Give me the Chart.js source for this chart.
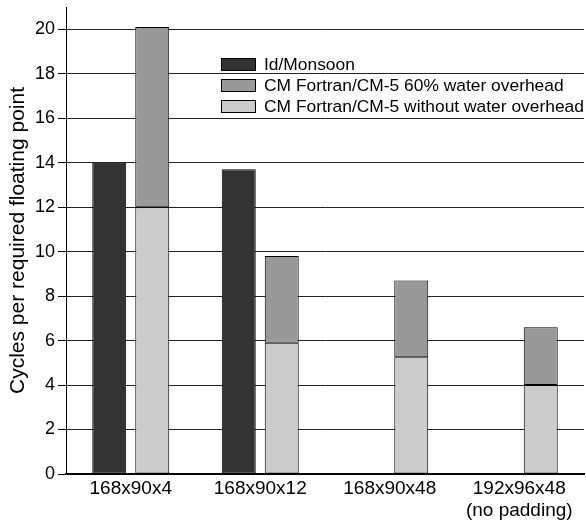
<!DOCTYPE html>
<html>
<head>
<meta charset="utf-8">
<script src="https://cdn.jsdelivr.net/npm/chart.js@4"></script>
<style>
  body { margin: 0; background: #fff; }
</style>
</head>
<body>
<canvas id="myChart" width="586" height="523"></canvas>
<script>
const categories = [['168x90x4'], ['168x90x12'], ['168x90x48'], ['192x96x48', '(no padding)']];
const monsoon = [14.0, 13.7, null, null];
const cmWithoutWater = [12.0, 5.9, 5.25, 4.0];
const cmWaterOverhead = [8.1, 3.9, 3.45, 2.6]; // added on top, totals 20.1, 9.8, 8.7, 6.6

const FONT = '"Liberation Sans", Arial, Helvetica, sans-serif';

// legend sits inside the plot, in this order
const legendOrder = [0, 2, 1];
const insideLegend = {
  id: 'insideLegend',
  afterDatasetsDraw(chart) {
    const ctx = chart.ctx;
    const x0 = chart.chartArea.left + 155;
    const y0 = chart.chartArea.top + 51;
    ctx.save();
    ctx.font = '17.4px ' + FONT;
    ctx.textBaseline = 'middle';
    legendOrder.forEach((i, row) => {
      const ds = chart.data.datasets[i];
      const y = y0 + row * 21;
      ctx.fillStyle = ds.backgroundColor;
      ctx.fillRect(x0, y, 35, 13);
      ctx.strokeStyle = '#000';
      ctx.lineWidth = 1;
      ctx.strokeRect(x0 + 0.5, y + 0.5, 34, 12);
      ctx.fillStyle = '#000';
      ctx.fillText(ds.label, x0 + 43, y + 7);
    });
    ctx.restore();
  }
};

const context = document.getElementById('myChart').getContext('2d');

const chart = new Chart(context, {
  type: 'bar',
  data: {
    labels: categories,
    datasets: [
      {
        label: 'Id/Monsoon',
        data: monsoon,
        stack: 'monsoon',
        backgroundColor: '#333333',
      },
      {
        label: 'CM Fortran/CM-5 without water overhead',
        data: cmWithoutWater,
        stack: 'cm',
        backgroundColor: '#cccccc',
      },
      {
        label: 'CM Fortran/CM-5 60% water overhead',
        data: cmWaterOverhead,
        stack: 'cm',
        backgroundColor: '#999999',
      },
    ],
  },
  options: {
    responsive: false,
    animation: false,
    layout: { padding: { top: 7, right: 2, left: 0, bottom: 0 } },
    datasets: {
      bar: {
        borderColor: '#000',
        borderWidth: 1,
        borderSkipped: false,
        categoryPercentage: 0.664,
        barPercentage: 0.79,
      },
    },
    plugins: {
      legend: { display: false },
      tooltip: { enabled: false },
    },
    scales: {
      x: {
        stacked: true,
        grid: { display: false, drawTicks: false },
        border: { display: true, color: '#000', width: 2 },
        ticks: {
          color: '#000',
          font: { family: FONT, size: 19, lineHeight: 1.15 },
          padding: 4,
          maxRotation: 0,
        },
        afterFit: (s) => { s.height = 49; },
      },
      y: {
        stacked: true,
        min: 0,
        max: 21,
        grid: { color: '#222', lineWidth: 1, tickLength: 8, tickColor: '#000' },
        border: { display: true, color: '#000', width: 1 },
        ticks: {
          stepSize: 2,
          includeBounds: false,
          color: '#000',
          padding: 3,
          font: { family: FONT, size: 18 },
        },
        title: {
          display: true,
          text: 'Cycles per required floating point',
          color: '#000',
          font: { family: FONT, size: 21 },
          padding: { top: 6, bottom: 2 },
        },
        afterFit: (s) => {
          s.width = 66;
          s.paddingTop = 0;
          s.paddingBottom = 0;
        },
      },
    },
  },
  plugins: [insideLegend],
});
</script>
</body>
</html>
